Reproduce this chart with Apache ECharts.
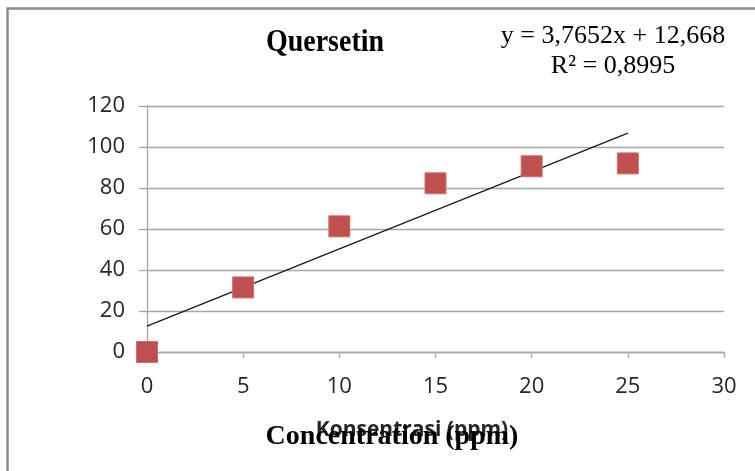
<!DOCTYPE html>
<html>
<head>
<meta charset="utf-8">
<script src="https://cdn.jsdelivr.net/npm/echarts@6/dist/echarts.min.js"></script>
<style>
html,body{margin:0;padding:0;background:#fff;}
#c{width:755px;height:471px;}
</style>
</head>
<body>
<div id="c"></div>
<script>
const concentrations = [0, 5, 10, 15, 20, 25];
const inhibition = [0, 31.5, 61.3, 82.3, 90.6, 92.0];
const trendSlope = 3.7652;
const trendIntercept = 12.668;
const trendRange = [0, 25];
const equationLines = ['y = 3,7652x + 12,668', 'R\u00b2 = 0,8995'];
const chartTitle = 'Quersetin';
const axisTitleId = 'Konsentrasi (ppm)';
const axisTitleEn = 'Concentration (ppm)';

const chart = echarts.init(document.getElementById('c'), null, {renderer: 'canvas'});
const gray = '#a6a6a6';
chart.setOption({
  animation: false,
  backgroundColor: '#fff',
  grid: {left: 147, right: 31, top: 106, bottom: 119},
  xAxis: {
    type: 'value', min: 0, max: 30, interval: 5,
    axisLine: {show: true, onZero: false, lineStyle: {color: gray, width: 1.3}},
    axisTick: {show: true, length: 6, lineStyle: {color: gray, width: 1.3}},
    splitLine: {show: false},
    axisLabel: {margin: 24, color: '#262626', fontSize: 22, fontFamily: 'Open Sans'}
  },
  yAxis: {
    type: 'value', min: 0, max: 120, interval: 20,
    axisLine: {show: true, lineStyle: {color: gray, width: 1.3}},
    axisTick: {show: true, length: 8, lineStyle: {color: gray, width: 1.3}},
    splitLine: {show: true, lineStyle: {color: gray, width: 1.3}},
    axisLabel: {margin: 22, color: '#262626', fontSize: 22, fontFamily: 'Open Sans'}
  },
  series: [
    {
      type: 'line',
      data: trendRange.map(x => [x, trendSlope * x + trendIntercept]),
      showSymbol: false, symbol: 'none',
      lineStyle: {color: '#1a1a1a', width: 1.3},
      z: 3
    },
    {
      type: 'scatter',
      data: concentrations.map((x, i) => [x, inhibition[i]]),
      symbol: 'rect', symbolSize: 21,
      itemStyle: {color: '#C0504D', borderColor: '#cf6f6c', borderWidth: 1, opacity: 1},
      clip: false,
      z: 4
    }
  ],
  graphic: [
    {type: 'rect', shape: {x: 7.5, y: 8.5, width: 800, height: 500},
     style: {fill: 'none', stroke: '#8a8a8a', lineWidth: 2.5}, silent: true, z: 10},
    {type: 'text', x: 325, y: 65, scaleY: 1.1, originX: 325, originY: 65,
     style: {text: chartTitle, font: 'bold 28px "Liberation Serif"', fill: '#000', textAlign: 'center', textVerticalAlign: 'bottom'}},
    {type: 'text', x: 613, y: 49,
     style: {text: equationLines[0], font: '26px "Liberation Serif"', fill: '#000', textAlign: 'center', textVerticalAlign: 'bottom'}},
    {type: 'text', x: 613, y: 79,
     style: {text: equationLines[1], font: '26px "Liberation Serif"', fill: '#000', textAlign: 'center', textVerticalAlign: 'bottom'}},
    {type: 'text', x: 412, y: 441,
     style: {text: axisTitleId, font: 'bold 21px "Open Sans"', fill: '#262626', textAlign: 'center', textVerticalAlign: 'bottom'}},
    {type: 'text', x: 392, y: 451,
     style: {text: axisTitleEn, font: 'bold 28px "Liberation Serif"', fill: '#000', textAlign: 'center', textVerticalAlign: 'bottom'}}
  ]
});
</script>
</body>
</html>
